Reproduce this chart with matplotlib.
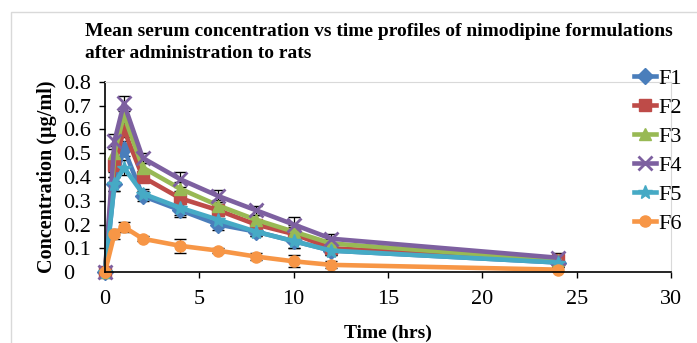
import matplotlib.pyplot as plt
from matplotlib.patches import Rectangle
import numpy as np

plt.rcParams['font.family'] = ['Liberation Serif', 'DejaVu Serif']

time = [0, 0.5, 1, 2, 4, 6, 8, 10, 12, 24]
labels = ['F1', 'F2', 'F3', 'F4', 'F5', 'F6']
f1 = [0, 0.37, 0.52, 0.32, 0.26, 0.20, 0.17, 0.13, 0.09, 0.04]
f2 = [0, 0.45, 0.60, 0.40, 0.31, 0.26, 0.20, 0.16, 0.10, 0.05]
f3 = [0, 0.50, 0.66, 0.44, 0.35, 0.28, 0.22, 0.17, 0.12, 0.05]
f4 = [0, 0.55, 0.71, 0.48, 0.39, 0.32, 0.26, 0.20, 0.14, 0.06]
f5 = [0, 0.37, 0.44, 0.33, 0.27, 0.22, 0.17, 0.13, 0.09, 0.04]
f6 = [0, 0.16, 0.19, 0.14, 0.11, 0.09, 0.065, 0.045, 0.03, 0.01]
err = [0.01, 0.03, 0.03, 0.02, 0.03, 0.025, 0.02, 0.03, 0.02, 0.02]
err6 = [0.01, 0.02, 0.02, 0.01, 0.03, 0.01, 0.015, 0.025, 0.015, 0.015]

series = [f1, f2, f3, f4, f5, f6]
colors = ['#4a7ebb', '#be4b48', '#98b954', '#7d60a0', '#46aac5', '#f79646']
markers = ['D', 's', '^', 'x', '*', 'o']

fig = plt.figure(figsize=(6.97, 3.43), dpi=100)
fig.patches.append(Rectangle((11/697, -0.1), 1.1, 1 - 12/343 + 0.1, transform=fig.transFigure,
                             fill=False, edgecolor='#d9d9d9', linewidth=1))
ax = fig.add_axes([105/697, 71/343, 566/697, 190/343])

for i, (y, lab) in enumerate(zip(series, labels)):
    e = err6 if lab == 'F6' else err
    ax.errorbar(time, y, yerr=e, fmt='none', ecolor='black', elinewidth=0.9, capsize=4, zorder=1)
    ms = 10 if markers[i] in ('x', '*') else 8
    ax.plot(time, y, color=colors[i], marker=markers[i], markersize=ms, markeredgewidth=2 if markers[i] == 'x' else 1,
            linewidth=3.3, label=lab, zorder=2, clip_on=False)

ax.set_xlim(0, 30)
ax.set_ylim(0, 0.8)
ax.set_xticks(np.arange(0, 31, 5))
ax.set_yticks(np.arange(0, 0.81, 0.1))
ax.set_yticklabels(['0' if v == 0 else f'{v:.1f}' for v in np.arange(0, 0.81, 0.1)])
ax.tick_params(labelsize=16, direction='out', length=4, width=1)
ax.tick_params(axis='x', pad=9)
ax.tick_params(axis='y', pad=26)
for t in ax.get_yticklabels():
    t.set_horizontalalignment('left')
for s in ['top', 'right']:
    ax.spines[s].set_color('#d9d9d9')
for s in ['left', 'bottom']:
    ax.spines[s].set_linewidth(1.2)

ax.set_xlabel('Time (hrs)', fontsize=14, fontweight='bold')
ax.xaxis.set_label_coords(0.5, -(325 - 272) / 190)
ax.set_ylabel('Concentration (µg/ml)', fontsize=14.5, fontweight='bold')
ax.yaxis.set_label_coords(-(105 - 57) / 566, 0.5)

fig.text(85/697, 1 - 36/343, 'Mean serum concentration vs time profiles of nimodipine formulations',
         fontsize=14, fontweight='bold', ha='left', va='baseline')
fig.text(85/697, 1 - 58/343, 'after administration to rats',
         fontsize=14, fontweight='bold', ha='left', va='baseline')

ax.legend(loc='upper left', bbox_to_anchor=(623/697, 1 - 57/343), bbox_transform=fig.transFigure,
          frameon=False, fontsize=16, handlelength=1.0, handletextpad=0.1, labelspacing=0.38,
          borderpad=0)

fig.savefig('out.png', dpi=100)
